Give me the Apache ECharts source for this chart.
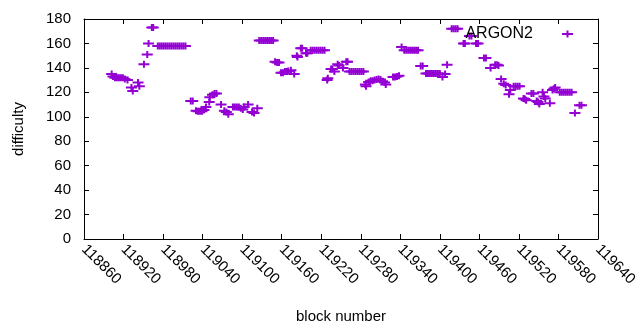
<!DOCTYPE html>
<html>
<head>
<meta charset="utf-8">
<script src="https://cdn.jsdelivr.net/npm/echarts@6/dist/echarts.min.js"></script>
<style>
  html, body { margin: 0; padding: 0; background: #fff; }
  #chart { width: 640px; height: 330px; }
</style>
</head>
<body>
<div id="chart"></div>
<script>
  // block numbers and difficulty
  const blockNumber = [
    118902, 118904, 118907, 118910, 118913, 118916, 118919, 118922, 118926, 118932,
    118934, 118942, 118944, 118951, 118956, 118958, 118963, 118965,
    118972, 118975, 118978, 118981, 118984, 118987, 118990, 118993, 118996, 118999,
    119002, 119005, 119008, 119011, 119014,
    119022, 119025, 119030, 119033, 119036, 119039, 119042, 119045, 119050, 119051,
    119055, 119058, 119061, 119068, 119073, 119076, 119079, 119086, 119089, 119092,
    119095, 119098, 119101, 119103, 119109, 119115, 119118, 119123,
    119126, 119129, 119132, 119135, 119138, 119141, 119144, 119147,
    119150, 119153, 119156, 119159, 119162, 119165, 119168, 119170, 119174, 119179,
    119183, 119184, 119189, 119191, 119197, 119199,
    119204, 119207, 119210, 119213, 119216, 119219, 119222, 119225,
    119229, 119230, 119235, 119237, 119240, 119245, 119247, 119253, 119258, 119260,
    119263, 119266, 119269, 119272, 119275, 119278, 119281, 119284,
    119287, 119288, 119292, 119295, 119298, 119301, 119304, 119307, 119310, 119313,
    119316, 119318, 119329, 119332, 119335, 119338, 119342,
    119346, 119349, 119352, 119355, 119358, 119361, 119364, 119367,
    119371, 119374,
    119379, 119382, 119385, 119388, 119391, 119394, 119397, 119400,
    119404, 119408, 119411, 119418, 119421, 119424, 119427,
    119436, 119438, 119445, 119448, 119455, 119458, 119467, 119470, 119477,
    119484, 119487, 119489, 119493, 119497, 119500, 119505, 119507,
    119512, 119515, 119518, 119521, 119527, 119529, 119531, 119539, 119542,
    119547, 119549, 119551, 119556, 119558, 119560, 119567, 119571, 119573, 119575,
    119582, 119585, 119588, 119591, 119594, 119597, 119600,
    119605, 119612, 119615
  ]
  const difficulty = [
    135, 133, 132, 132, 132, 132, 132, 131, 130, 124,
    121, 128, 125, 143, 151, 160, 173, 173,
    158, 158, 158, 158, 158, 158, 158, 158, 158, 158,
    158, 158, 158, 158, 158,
    113, 113, 105, 104.5, 104.5, 104.5, 105.5, 108, 112, 116,
    118, 119, 119, 110, 105, 104, 102, 108, 108, 108,
    108, 107, 106, 108, 110, 104, 103, 107,
    162.5, 162.5, 162.5, 162.5, 162.5, 162.5, 162.5, 162.5,
    145, 144.5, 144.5, 136, 136, 137, 137, 137.5, 138, 135,
    150, 149, 156, 156, 152, 152,
    154.5, 154.5, 154.5, 154.5, 154.5, 154.5, 154.5, 154.5,
    130, 131.5, 139, 139, 137, 143, 142, 140, 145, 145,
    137, 137, 137, 137, 137, 137, 137, 137,
    126.5, 125, 128.5, 129.5, 129.5, 130, 130.5, 131, 130.5, 129,
    128, 126.5, 132.5, 132.5, 133, 133.5, 157,
    154.5, 154.5, 154.5, 154.5, 154.5, 154.5, 154.5, 154.5,
    141.5, 141.5,
    135.5, 135.5, 135.5, 135.5, 135.5, 135.5, 135.5, 135.5,
    132.5, 135, 142.5, 172, 172, 172, 172,
    160, 160, 166, 166, 160, 160, 148, 148, 140,
    142.5, 142.5, 142, 131, 127, 126, 118.5, 122,
    125, 125, 125, 125, 115, 114.5, 113.5, 119, 119,
    113, 112, 110.5, 120, 116.5, 115, 111, 122, 123, 124,
    120, 120, 120, 120, 120, 120, 120,
    103, 109.5, 109.5
  ]
  const seriesName = 'ARGON2'

  const xMin = 118860, xMax = 119640, xStep = 60
  const yMin = 0, yMax = 180, yStep = 20

  const plusPath = 'path://M0,2.5H4.5V0H6.5V2.5H11V4.5H6.5V7H4.5V4.5H0Z'
  const purple = '#9400d3'
  const font = 'Liberation Sans, Arial, sans-serif'

  const points = blockNumber.map((b, i) => [b, difficulty[i]])

  const chart = echarts.init(document.getElementById('chart'))

  // shared axis look: ticks pointing inside, black frame
  const axisBase = {
    type: 'value',
    axisLine: { show: true, onZero: false, lineStyle: { color: '#000', width: 1 } },
    axisTick: { show: true, inside: true, length: 5, lineStyle: { color: '#000' } },
    splitLine: { show: false },
  }

  chart.setOption({
    animation: false,
    grid: { left: 84, right: 30, top: 19, bottom: 91 },
    legend: {
      data: [seriesName],
      right: 62,
      top: 21,
      align: 'right',
      icon: plusPath,
      itemWidth: 11,
      itemHeight: 7,
      textStyle: { fontFamily: font, fontSize: 16, color: '#000', padding: [0, 24, 0, 0] },
    },
    xAxis: [
      Object.assign({}, axisBase, {
        min: xMin, max: xMax, interval: xStep,
        name: 'block number',
        nameLocation: 'middle',
        nameGap: 70,
        nameTextStyle: { fontFamily: font, fontSize: 15, color: '#000' },
        axisLabel: { rotate: -45, margin: 8, color: '#000', fontFamily: font, fontSize: 15,
          showMinLabel: true, showMaxLabel: true, formatter: (v) => String(v) },
      }),
      Object.assign({}, axisBase, {
        position: 'top', min: xMin, max: xMax, interval: xStep,
        axisLabel: { show: false },
      }),
    ],
    yAxis: [
      Object.assign({}, axisBase, {
        min: yMin, max: yMax, interval: yStep,
        name: 'difficulty',
        nameLocation: 'middle',
        nameGap: 58,
        nameTextStyle: { fontFamily: font, fontSize: 15, color: '#000' },
        axisLabel: { margin: 13, color: '#000', fontFamily: font, fontSize: 15 },
      }),
      Object.assign({}, axisBase, {
        position: 'right', min: yMin, max: yMax, interval: yStep,
        axisLabel: { show: false },
      }),
    ],
    series: [
      {
        name: seriesName,
        type: 'scatter',
        symbol: plusPath,
        symbolSize: [11, 7],
        itemStyle: { color: purple, opacity: 1 },
        data: points,
      },
    ],
  })
</script>
</body>
</html>
